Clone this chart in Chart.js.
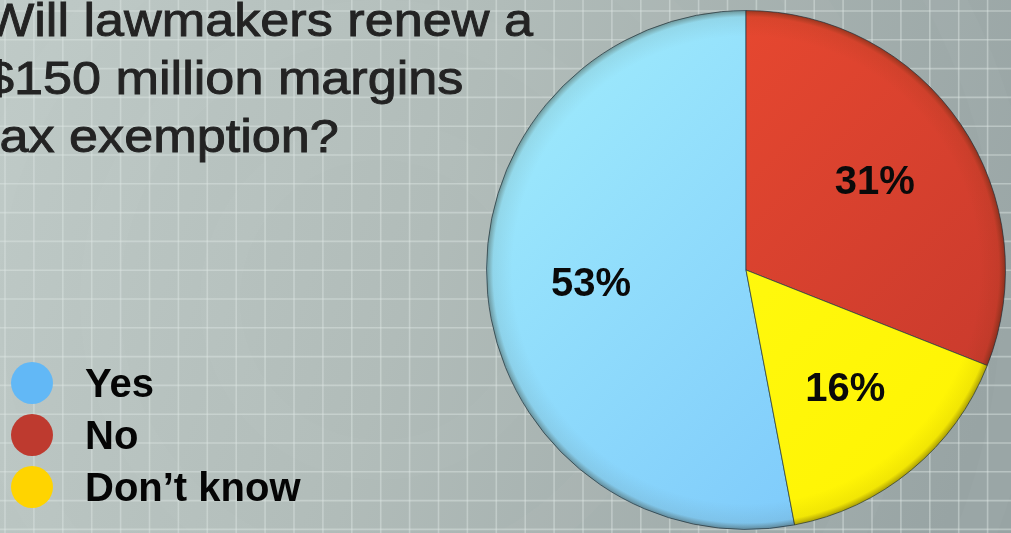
<!DOCTYPE html>
<html>
<head>
<meta charset="utf-8">
<script src="https://cdn.jsdelivr.net/npm/chart.js@4.4.1/dist/chart.umd.min.js"></script>
<style>
    html, body { margin: 0; padding: 0; background: #b3bebb; overflow: hidden; }
    #wrap { position: relative; width: 1011px; height: 533px; }
</style>
</head>
<body>
<div id="wrap"><canvas id="pollPie"></canvas></div>
<script>
// Poll results
const categories = ['Yes', 'No', 'Don\u2019t know'];
const shares = [53, 31, 16];
const titleLines = ['Will lawmakers renew a', '$150 million margins', 'tax exemption?'];

// Legend dots (flat) and slice gradients (light -> dark)
const legendColors = ['#62b8f6', '#be3a2f', '#ffd400'];
const sliceLight = ['#a2eefc', '#f24d31', '#ffff1a'];
const sliceDark = ['#76c2fb', '#c2372c', '#fff200'];

document.addEventListener('DOMContentLoaded', function() {
    const canvas = document.getElementById('pollPie');
    const total = shares.reduce((a, b) => a + b, 0);
    // 'No' starts at 12 o'clock, so 'Yes' starts where the other two end
    const startDeg = (total - shares[0]) / total * 360;

    // Grey-green backdrop with a light grid
    const backdrop = {
        id: 'backdrop',
        beforeDraw(chart) {
            const c = chart.ctx, w = chart.width, h = chart.height;
            c.save();
            const g = c.createLinearGradient(0, 0, w, h * 0.6);
            g.addColorStop(0, '#bfcac7');
            g.addColorStop(0.45, '#b1bcb9');
            g.addColorStop(1, '#98a4a4');
            c.fillStyle = g;
            c.fillRect(0, 0, w, h);
            // faint halo rings
            c.strokeStyle = 'rgba(255,255,255,0.025)';
            c.lineWidth = 40;
            for (let r = 160; r < 900; r += 120) {
                c.beginPath();
                c.arc(380, 300, r, 0, Math.PI * 2);
                c.stroke();
            }
            c.strokeStyle = 'rgba(222,230,228,0.45)';
            c.lineWidth = 1.6;
            for (let x = 5; x < w; x += 28.9) {
                c.beginPath(); c.moveTo(x, 0); c.lineTo(x, h); c.stroke();
            }
            for (let y = 11; y < h; y += 28.8) {
                c.beginPath(); c.moveTo(0, y); c.lineTo(w, y); c.stroke();
            }
            c.restore();
        }
    };

    // Darker rim on the pie + percentage labels
    const pieDecor = {
        id: 'pieDecor',
        afterDatasetsDraw(chart) {
            const c = chart.ctx;
            const arcs = chart.getDatasetMeta(0).data;
            if (!arcs.length) return;
            const { x, y, outerRadius } = arcs[0].getProps(['x', 'y', 'outerRadius'], true);
            c.save();
            c.beginPath();
            c.arc(x, y, outerRadius, 0, Math.PI * 2);
            c.clip();
            const rim = c.createRadialGradient(x, y, outerRadius * 0.9, x, y, outerRadius);
            rim.addColorStop(0, 'rgba(60,40,0,0)');
            rim.addColorStop(0.75, 'rgba(60,40,0,0.07)');
            rim.addColorStop(1, 'rgba(40,30,10,0.4)');
            c.fillStyle = rim;
            c.fillRect(x - outerRadius, y - outerRadius, outerRadius * 2, outerRadius * 2);
            c.restore();

            c.save();
            c.font = 'bold 40px "Liberation Sans", Arial, sans-serif';
            c.fillStyle = '#0a0a0a';
            c.textAlign = 'center';
            c.textBaseline = 'middle';
            arcs.forEach((arc, i) => {
                const p = arc.getProps(['startAngle', 'endAngle', 'x', 'y', 'outerRadius'], true);
                const mid = (p.startAngle + p.endAngle) / 2;
                const r = p.outerRadius * 0.6;
                c.fillText(shares[i] + '%', p.x + Math.cos(mid) * r, p.y + Math.sin(mid) * r);
            });
            c.restore();
        }
    };

    // Title (runs off the left edge) and dot legend
    const textBits = {
        id: 'textBits',
        afterDraw(chart) {
            const c = chart.ctx;
            c.save();
            c.fillStyle = '#232323';
            c.strokeStyle = '#232323';
            c.lineWidth = 0.9;
            c.font = '47px "Liberation Sans", Arial, sans-serif';
            c.textBaseline = 'alphabetic';
            titleLines.forEach((line, i) => {
                c.save();
                c.translate(-15, 36 + i * 58);
                c.scale(1.11, 1);
                c.fillText(line, 0, 0);
                c.strokeText(line, 0, 0);
                c.restore();
            });
            c.restore();

            c.save();
            c.font = 'bold 40px "Liberation Sans", Arial, sans-serif';
            categories.forEach((label, i) => {
                const cy = 383 + i * 52;
                c.beginPath();
                c.arc(32, cy, 21, 0, Math.PI * 2);
                c.fillStyle = legendColors[i];
                c.fill();
                c.fillStyle = '#050505';
                c.fillText(label, 85, cy + 14);
            });
            c.restore();
        }
    };

    new Chart(canvas.getContext('2d'), {
        type: 'pie',
        data: {
            labels: categories,
            datasets: [{
                data: shares,
                backgroundColor: function(context) {
                    const area = context.chart.chartArea;
                    const i = context.dataIndex;
                    if (!area) return sliceDark[i];
                    const g = context.chart.ctx.createLinearGradient(area.left, area.top, area.right, area.bottom);
                    g.addColorStop(0, sliceLight[i]);
                    g.addColorStop(1, sliceDark[i]);
                    return g;
                },
                borderColor: 'rgba(35,55,70,0.7)',
                borderWidth: 1
            }]
        },
        options: {
            responsive: true,
            maintainAspectRatio: false,
            animation: false,
            rotation: startDeg,
            layout: {
                padding: { left: 486, right: 5, top: 10, bottom: 3 }
            },
            plugins: {
                legend: { display: false },
                tooltip: { enabled: false },
                title: { display: false }
            }
        },
        plugins: [backdrop, pieDecor, textBits]
    });
});
</script>
</body>
</html>
